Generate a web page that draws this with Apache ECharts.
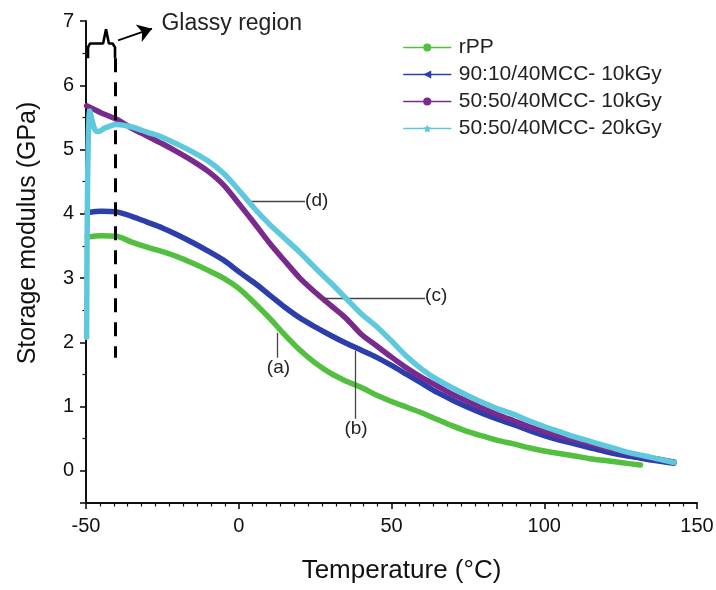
<!DOCTYPE html>
<html>
<head>
<meta charset="utf-8">
<script src="https://cdn.jsdelivr.net/npm/echarts@6/dist/echarts.min.js"></script>
<style>
html,body{margin:0;padding:0;background:#fff;}
#chart{width:716px;height:590px;}
</style>
</head>
<body>
<div id="chart"></div>
<script>
// ---- data ----
const seriesNames = ['rPP', '90:10/40MCC- 10kGy', '50:50/40MCC- 10kGy', '50:50/40MCC- 20kGy'];
const xTickLabels = [-50, 0, 50, 100, 150];
const yTickLabels = [0, 1, 2, 3, 4, 5, 6, 7];

const rppT = [-49.6,-45,-40,-35,-30,-25,-20,-15,-10,-5,0,5,10,15,20,25,30,35,40,45,50,55,60,65,70,75,80,85,90,95,100,105,110,115,120,125,131.5];
const rppE = [3.64,3.66,3.65,3.56,3.48,3.41,3.33,3.23,3.12,3.00,2.84,2.62,2.38,2.12,1.88,1.68,1.52,1.40,1.30,1.18,1.08,0.99,0.90,0.80,0.70,0.61,0.54,0.47,0.42,0.36,0.31,0.27,0.23,0.19,0.16,0.13,0.09];

const b9010T = [-49.6,-45,-40,-35,-30,-25,-20,-15,-10,-5,0,5,10,15,20,25,30,35,40,45,50,55,60,65,70,75,80,85,90,95,100,105,110,115,120,125,130,135,142.5];
const b9010E = [4.02,4.04,4.03,3.96,3.87,3.78,3.67,3.55,3.42,3.28,3.10,2.93,2.74,2.55,2.38,2.24,2.11,1.99,1.88,1.77,1.64,1.50,1.36,1.22,1.10,0.99,0.89,0.80,0.72,0.63,0.55,0.48,0.42,0.36,0.30,0.25,0.21,0.17,0.12];

const b5010T = [-49.8,-45,-40,-35,-30,-25,-20,-15,-10,-5,0,5,10,15,20,25,30,35,40,45,50,55,60,65,70,75,80,85,90,95,100,105,110,115,120,125,130,135,142.5];
const b5010E = [5.68,5.57,5.47,5.33,5.21,5.09,4.96,4.82,4.66,4.45,4.16,3.86,3.55,3.27,3.00,2.78,2.58,2.38,2.13,1.95,1.77,1.60,1.45,1.32,1.19,1.08,0.97,0.87,0.78,0.69,0.61,0.54,0.48,0.42,0.36,0.30,0.25,0.20,0.14];

const b5020T = [-49.8,-49.5,-48.8,-48,-47,-46,-44,-42,-40,-35,-30,-25,-20,-15,-10,-5,0,5,10,15,20,25,30,35,40,45,50,55,60,65,70,75,80,85,90,95,100,105,110,115,120,125,130,135,142.5];
const b5020E = [2.08,4.40,5.60,5.45,5.30,5.28,5.33,5.37,5.39,5.35,5.27,5.19,5.08,4.96,4.82,4.63,4.37,4.09,3.84,3.62,3.40,3.16,2.93,2.69,2.45,2.25,2.02,1.78,1.58,1.42,1.29,1.17,1.06,0.96,0.88,0.78,0.69,0.61,0.53,0.46,0.39,0.32,0.26,0.21,0.13];

// annotation geometry in data units
const bracketT = [-49.35,-49.35,-48.7,-44.4,-43.45,-42.5,-41.3,-40.5,-40.5];
const bracketE = [6.42,6.59,6.65,6.65,6.87,6.65,6.65,6.59,6.42];

const FONT = 'Liberation Sans, Arial, Helvetica, sans-serif';
const colors = ['#52bf3f', '#2c3dac', '#7a2a8c', '#5ec8dc'];
const symbols = ['circle', 'triangle', 'circle', 'path://M0,-10 L2.9,-4 L9.5,-3.1 L4.7,1.5 L5.9,8.1 L0,5 L-5.9,8.1 L-4.7,1.5 L-9.5,-3.1 L-2.9,-4 Z'];
const rotations = [0, 90, 0, 0];

const zip = (a, b) => a.map((v, i) => [v, b[i]]);
const curveData = [zip(rppT, rppE), zip(b9010T, b9010E), zip(b5010T, b5010E), zip(b5020T, b5020E)];

const chart = echarts.init(document.getElementById('chart'), null, {renderer: 'canvas'});

const curveSeries = curveData.map((d, i) => ({
  name: seriesNames[i],
  type: 'line',
  data: d,
  smooth: 0.3,
  showSymbol: false,
  symbol: symbols[i],
  symbolRotate: rotations[i],
  color: colors[i],
  lineStyle: {width: 5.5, color: colors[i], join: 'round', cap: 'round'},
  itemStyle: {color: colors[i]},
  silent: true,
  z: 2 + i
}));

const leader = {color: '#444', width: 1.3, type: 'solid'};
const lblStyle = {show: true, color: '#222', fontSize: 19, fontFamily: FONT};

const annotSeries = {
  name: 'annot',
  type: 'line',
  data: zip(bracketT, bracketE),
  showSymbol: false,
  symbol: 'none',
  lineStyle: {width: 2.6, color: '#000'},
  silent: true,
  z: 10,
  markLine: {
    silent: true,
    symbol: ['none', 'none'],
    label: {show: false},
    animation: false,
    data: [
      [{coord: [-40.5, 6.42], lineStyle: {color: '#000', width: 3, type: [14, 10]}}, {coord: [-40.5, 1.76]}],
      [{coord: [-39.5, 6.70], symbol: 'none', lineStyle: {color: '#000', width: 1.8, type: 'solid'}}, {coord: [-28.4, 6.88], symbol: 'arrow', symbolSize: 14}],
      [{coord: [12.5, 2.15], lineStyle: leader}, {coord: [12.5, 1.76]}],
      [{coord: [38.1, 1.87], lineStyle: leader}, {coord: [38.1, 0.81]}],
      [{coord: [27.6, 2.69], lineStyle: leader}, {coord: [61, 2.69]}],
      [{coord: [3.0, 4.19], lineStyle: leader}, {coord: [21.7, 4.19]}]
    ]
  },
  markPoint: {
    silent: true,
    symbol: 'circle',
    symbolSize: 0.01,
    itemStyle: {color: 'rgba(0,0,0,0)'},
    animation: false,
    data: [
      {coord: [-25.3, 6.96], label: Object.assign({}, lblStyle, {formatter: 'Glassy region', position: 'right', distance: 0, fontSize: 23})},
      {coord: [13.0, 1.75], label: Object.assign({}, lblStyle, {formatter: '(a)', position: 'bottom', distance: 0})},
      {coord: [38.4, 0.80], label: Object.assign({}, lblStyle, {formatter: '(b)', position: 'bottom', distance: 0})},
      {coord: [61.0, 2.73], label: Object.assign({}, lblStyle, {formatter: '(c)', position: 'right', distance: 0})},
      {coord: [21.7, 4.21], label: Object.assign({}, lblStyle, {formatter: '(d)', position: 'right', distance: 0})}
    ]
  }
};

const axisCommon = {
  axisLine: {show: true, onZero: false, lineStyle: {color: '#111', width: 2}},
  axisTick: {show: true, inside: false, length: 6, lineStyle: {color: '#111', width: 1.6}},
  splitLine: {show: false}
};

const option = {
  backgroundColor: '#ffffff',
  animation: false,
  grid: {left: 86, right: 19, top: 21, bottom: 87, containLabel: false, outerBoundsMode: 'none'},
  legend: {
    orient: 'vertical',
    left: 403,
    top: 37,
    padding: 0,
    itemWidth: 47,
    itemHeight: 10,
    itemGap: 6,
    data: seriesNames,
    lineStyle: {width: 1.5},
    textStyle: {fontSize: 21, color: '#222', fontFamily: FONT, padding: [0, 0, 0, 3]},
    selectedMode: false
  },
  xAxis: Object.assign({}, axisCommon, {
    type: 'value',
    min: xTickLabels[0],
    max: xTickLabels[xTickLabels.length - 1],
    interval: 50,
    name: 'Temperature (°C)',
    nameLocation: 'middle',
    nameGap: 55,
    nameTextStyle: {color: '#111', fontSize: 26, fontFamily: FONT, padding: [0, 0, 0, 20]},
    axisLabel: {color: '#111', fontSize: 20, fontFamily: FONT, margin: 13},
    minorTick: {show: true, splitNumber: 11, length: 3.5, lineStyle: {color: '#111', width: 1.2}}
  }),
  yAxis: Object.assign({}, axisCommon, {
    type: 'value',
    min: -0.5,
    max: yTickLabels[yTickLabels.length - 1],
    splitNumber: 8,
    name: 'Storage modulus (GPa)',
    nameLocation: 'middle',
    nameGap: 45,
    nameTextStyle: {color: '#111', fontSize: 25, fontFamily: FONT, padding: [0, 0, 0, 58]},
    axisLabel: {
      color: '#111', fontSize: 20, fontFamily: FONT, margin: 12,
      formatter: v => (yTickLabels.indexOf(Math.round(v * 1000) / 1000) >= 0 ? String(v) : '')
    },
    minorTick: {show: true, splitNumber: 2, length: 3.5, lineStyle: {color: '#111', width: 1.2}}
  }),
  series: curveSeries.concat([annotSeries])
};

chart.setOption(option);
</script>
</body>
</html>
